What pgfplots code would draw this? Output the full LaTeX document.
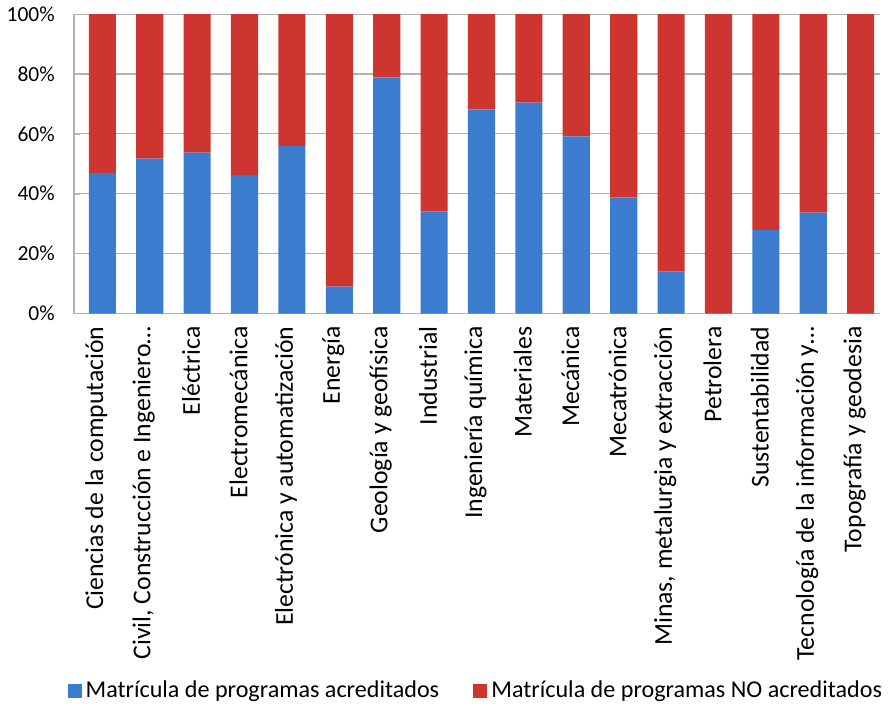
\documentclass[border=0pt]{standalone}
\usepackage{pgfplots}
\pgfplotsset{compat=1.18}
\usepackage{fontspec}
\setmainfont{Carlito}
\definecolor{cblue}{RGB}{60,124,206}
\definecolor{cred}{RGB}{206,52,48}
\begin{document}
\begin{tikzpicture}
\begin{axis}[
  scale only axis, width=401pt, height=149pt,
  ybar stacked, bar width=13.5pt,
  xmin=-0.6, xmax=16.4, ymin=0, ymax=100,
  xtick=data,
  xticklabels={Ciencias de la computación,{Civil, Construcción e Ingeniero…},Eléctrica,Electromecánica,Electrónica y automatización,Energía,Geología y geofísica,Industrial,Ingeniería química,Materiales,Mecánica,Mecatrónica,{Minas, metalurgia y extracción},Petrolera,Sustentabilidad,Tecnología de la información y…,Topografía y geodesia},
  x tick label style={rotate=90, anchor=east, xshift=-3pt, yshift=3pt, font=\fontsize{12.8}{14}\selectfont},
  ytick={0,20,40,60,80,100},
  yticklabel={\pgfmathprintnumber{\tick}\%},
  /pgf/number format/assume math mode=true,
  y tick label style={font=\fontsize{10.7}{12}\selectfont, xshift=-6pt},
  ymajorgrids, grid style={gray!60, line width=0.6pt},
  axis x line*=bottom, axis y line*=left,
  axis line style={gray!60, line width=0.6pt},
  major tick length=3pt, xtick style={draw=none}, ytick style={gray!60},
  legend style={at={(0.5,-1.26)}, anchor=center, draw=none, legend columns=2,
    font=\fontsize{12}{13}\selectfont, /tikz/every even column/.append style={column sep=15pt}},
  legend image code/.code={\fill[#1] (0pt,-3.5pt) rectangle (7pt,3.5pt);},
]
\addplot[draw=none, fill=cblue] coordinates {
(0,47) (1,51.7) (2,53.7) (3,46.3) (4,56) (5,9) (6,78.9) (7,34) (8,68.2) (9,70.4) (10,59.2) (11,38.8) (12,14) (13,0) (14,27.9) (15,33.7) (16,0)};
\addlegendentry{Matrícula de programas acreditados}
\addplot[draw=none, fill=cred] coordinates {
(0,53) (1,48.3) (2,46.3) (3,53.7) (4,44) (5,91) (6,21.1) (7,66) (8,31.8) (9,29.6) (10,40.8) (11,61.2) (12,86) (13,100) (14,72.1) (15,66.3) (16,100)};
\addlegendentry{Matrícula de programas NO acreditados}
\end{axis}
\end{tikzpicture}
\end{document}
